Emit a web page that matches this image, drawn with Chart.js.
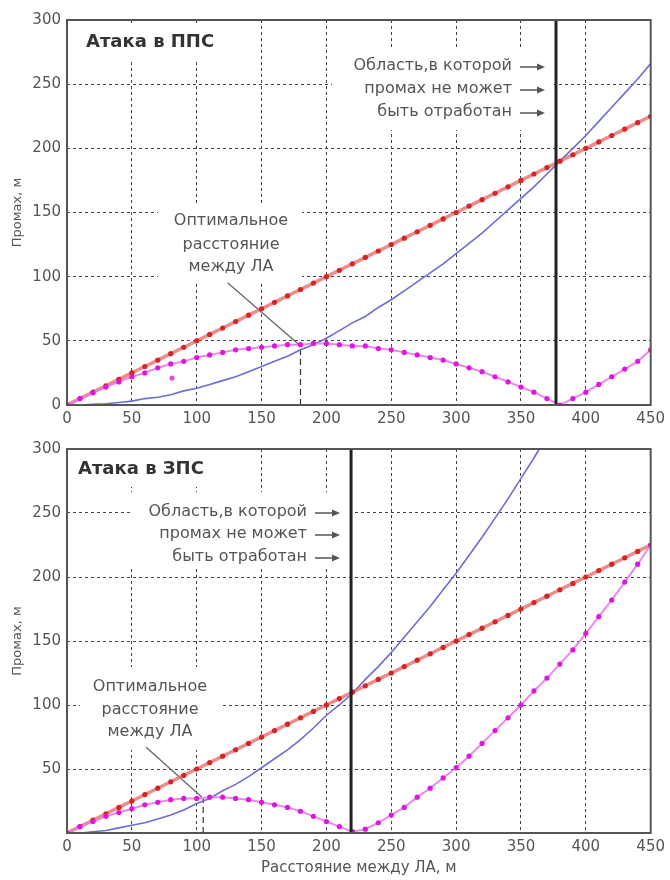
<!DOCTYPE html>
<html><head><meta charset="utf-8">
<script src="https://cdn.jsdelivr.net/npm/chart.js@4"></script>
<style>
html,body{margin:0;padding:0;background:#fff;}
#wrap{position:relative;width:670px;height:880px;overflow:hidden;}
canvas{position:absolute;left:0;}
#c1{top:0;} #c2{top:430px;}
</style></head><body>
<div id="wrap"><canvas id="c1" width="670" height="430"></canvas><canvas id="c2" width="670" height="450"></canvas></div>
<script>
// ---- data ----
const distances = [0,10,20,30,40,50,60,70,80,90,100,110,120,130,140,150,160,170,180,190,200,210,220,230,240,250,260,270,280,290,300,310,320,330,340,350,360,370,380,390,400,410,420,430,440,450];
const xTicks = [0,50,100,150,200,250,300,350,400,450];
const yTicks = [0,50,100,150,200,250,300];

// Атака в ППС
const redTop  = [0,5,10,15,20,25,30,35,40,45,50,55,60,65,70,75,80,85,90,95,100,105,110,115,120,125,130,135,140,145,150,155,160,165,170,175,180,185,190,195,200,205,210,215,220,225];
const blueTop = [0,0,0.5,1,2,3,5,6,8,11,13,16,19,22,26,30,34,38,43,47,52,58,64,69,76,82,89,96,103,110,118,126,134,143,152,161,170,180,190,200,210,221,232,243,254,266];
const magTop  = [0,5,9.5,14,18,22,25,29,32,34,37,39,41,43,44,45,46,47,47,48,48,47,46,46,44,43,41,39,37,35,32,29,26,22,18,14,10,5,0,5,10,16,22,28,34,43];
const strayTopX = [81];
const strayTopY = [21];
const limitTop = 377;
const optTopX = [180, 180];
const optTopY = [0, 45];
const leaderTopX = [124, 179];
const leaderTopY = [95, 47];

// Атака в ЗПС
const redBot  = [0,5,10,15,20,25,30,35,40,45,50,55,60,65,70,75,80,85,90,95,100,105,110,115,120,125,130,135,140,145,150,155,160,165,170,175,180,185,190,195,200,205,210,215,220,225];
const blueBot = [0,0,1,2,4,6,8,11,14,18,23,27,33,38,44,51,58,65,73,82,92,100,109,120,130,141,153,165,177,190,203,217,231,246,261,277,293,310,null,null,null,null,null,null,null,null];
const magBot  = [0,5,9,13,16,19,22,24,26,27,27,28,28,27,26,24,22,20,17,13,9,5,1,3,8,14,20,28,35,43,51,60,70,80,90,100,111,121,132,143,156,169,182,196,210,225];
const limitBot = 219;
const optBotX = [105, 105];
const optBotY = [0, 27];
const leaderBotX = [61, 104];
const leaderBotY = [67, 28];

const FONT = '"DejaVu Sans", "Liberation Sans", sans-serif';

function pts(xs, ys){ return xs.map((x,i)=>({x:x, y:ys[i]})); }

function annotPlugin(cfg){
  return {
    id:'annot',
    beforeDatasetsDraw(chart){
      const ctx = chart.ctx; ctx.save();
      ctx.fillStyle = '#fff';
      cfg.boxes.forEach(b=>ctx.fillRect(b[0],b[1],b[2]-b[0],b[3]-b[1]));
      ctx.textBaseline = 'middle';
      ctx.fillStyle = '#333';
      ctx.font = 'bold 18px ' + FONT;
      ctx.textAlign = 'left';
      ctx.fillText(cfg.title.text, cfg.title.x, cfg.title.y);
      ctx.fillStyle = '#555';
      ctx.font = '16px ' + FONT;
      ctx.textAlign = 'center';
      cfg.opt.lines.forEach((t,i)=>ctx.fillText(t, cfg.opt.x, cfg.opt.ys[i]));
      ctx.textAlign = 'right';
      ctx.strokeStyle = '#555'; ctx.lineWidth = 1.5;
      cfg.region.lines.forEach((t,i)=>{
        const y = cfg.region.ys[i];
        ctx.fillText(t, cfg.region.x, y);
        const a0 = cfg.region.x + 8, a1 = cfg.region.x + 33;
        ctx.beginPath(); ctx.moveTo(a0, y+1); ctx.lineTo(a1-5, y+1); ctx.stroke();
        ctx.beginPath(); ctx.moveTo(a1, y+1); ctx.lineTo(a1-8, y-2.5); ctx.lineTo(a1-8, y+4.5); ctx.closePath(); ctx.fill();
      });
      ctx.restore();
    },
    afterDatasetsDraw(chart){
      const {left, right, top, bottom} = chart.chartArea;
      const ctx = chart.ctx; ctx.save();
      ctx.strokeStyle = '#555'; ctx.lineWidth = 2;
      ctx.strokeRect(left, top, right-left, bottom-top);
      ctx.restore();
    }
  };
}

function makeChart(id, d, cfg, xHeight, padTop, showXTitle, hideZero){
  const datasets = [
    {data: pts([d.limit, d.limit],[0,300]), borderColor:'#222', borderWidth:3, pointRadius:0, order:0},
    {data: pts(distances, d.mag), borderColor:'rgba(238,120,238,0.9)', borderWidth:2, pointRadius:2.6, pointBackgroundColor:'#dd18dd', pointBorderWidth:0, order:1},
    {data: pts(d.strayX, d.strayY), showLine:false, pointRadius:2.6, pointBackgroundColor:'#e050e0', pointBorderWidth:0, order:1},
    {data: pts(distances, d.red), borderColor:'rgba(232,100,100,0.75)', borderWidth:3.5, pointRadius:2.6, pointBackgroundColor:'#d82424', pointBorderWidth:0, order:2},
    {data: pts(distances, d.blue), borderColor:'#6c6cd6', borderWidth:1.6, pointRadius:0, order:3, spanGaps:false},
    {data: pts(d.optX, d.optY), borderColor:'#333', borderWidth:1.2, borderDash:[6,4], pointRadius:0, order:4},
    {data: pts(d.leadX, d.leadY), borderColor:'#666', borderWidth:1.3, pointRadius:0, order:4}
  ];
  return new Chart(document.getElementById(id), {
    type:'line',
    data:{datasets},
    options:{
      responsive:false, animation:false,
      events:[],
      layout:{padding:{top:padTop, right:16, left:0, bottom:0}},
      plugins:{legend:{display:false}, tooltip:{enabled:false}},
      elements:{line:{tension:0}},
      scales:{
        x:{type:'linear', min:0, max:450,
          afterFit:s=>{s.height = xHeight;},
          afterBuildTicks:s=>{s.ticks = xTicks.map(v=>({value:v}));},
          grid:{color:'#444', lineWidth:1, drawTicks:false},
          border:{display:false, dash:[3,3]},
          ticks:{padding:5, color:'#555', font:{family:FONT, size:15}, autoSkip:false, maxRotation:0},
          title:{display:showXTitle, text:'Расстояние между ЛА, м', color:'#555', font:{family:FONT, size:15}, padding:{top:0,bottom:3}}
        },
        y:{type:'linear', min:0, max:300,
          afterFit:s=>{s.width = 67;},
          afterBuildTicks:s=>{s.ticks = yTicks.map(v=>({value:v}));},
          grid:{color:'#444', lineWidth:1, drawTicks:false},
          border:{display:false, dash:[3,3]},
          ticks:{padding:6, color:'#555', font:{family:FONT, size:15}, callback:v=> (hideZero && v===0) ? '' : v},
          title:{display:true, text:'Промах, м', color:'#555', font:{family:FONT, size:13}, padding:{top:10,bottom:0}}
        }
      }
    },
    plugins:[annotPlugin(cfg)]
  });
}

makeChart('c1',
  {limit:limitTop, red:redTop, blue:blueTop, mag:magTop, strayX:strayTopX, strayY:strayTopY, optX:optTopX, optY:optTopY, leadX:leaderTopX, leadY:leaderTopY},
  {
    boxes:[[68,24,230,62],[158,203,302,284],[332,50,554,130]],
    title:{text:'Атака в ППС', x:86, y:42},
    opt:{lines:['Оптимальное','расстояние','между ЛА'], x:231, ys:[221,245,267]},
    region:{lines:['Область,в которой','промах не может','быть отработан'], x:512, ys:[66,89,112]}
  }, 25, 20, false, false);

makeChart('c2',
  {limit:limitBot, red:redBot, blue:blueBot, mag:magBot, strayX:[], strayY:[], optX:optBotX, optY:optBotY, leadX:leaderBotX, leadY:leaderBotY},
  {
    boxes:[[68,20,240,57],[130,62,350,138],[80,237,220,320]],
    title:{text:'Атака в ЗПС', x:78, y:39},
    opt:{lines:['Оптимальное','расстояние','между ЛА'], x:150, ys:[257,280,302]},
    region:{lines:['Область,в которой','промах не может','быть отработан'], x:307, ys:[82,104,127]}
  }, 47, 19, true, true);
</script>
</body></html>
